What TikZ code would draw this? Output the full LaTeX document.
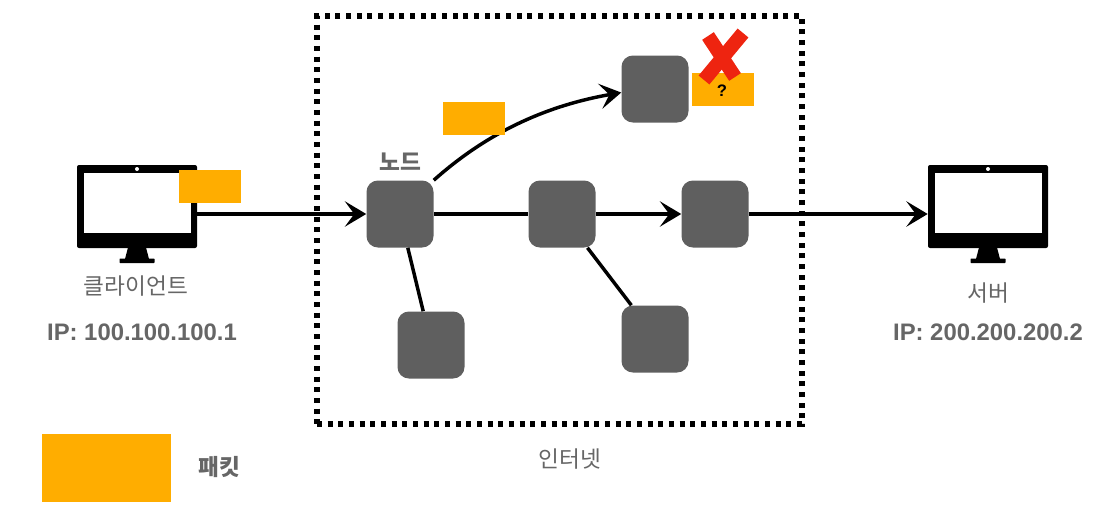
\documentclass[tikz,border=0pt]{standalone}
\usepackage{fontspec}
\usepackage{xcolor}
\usetikzlibrary{arrows.meta}
\setmainfont{Liberation Sans}
\newfontfamily\krfont{Noto Sans CJK KR}
\definecolor{gray1}{RGB}{95,95,95}
\definecolor{gray2}{RGB}{102,102,102}
\definecolor{orange1}{RGB}{255,173,0}
\definecolor{red1}{RGB}{238,36,16}
\tikzset{
  router/.style={fill=gray1, rounded corners=8.5pt, minimum size=50.25pt, inner sep=0pt},
  packet/.style={fill=orange1, minimum width=46.5pt, minimum height=24.75pt, inner sep=0pt},
  monitor/.style={fill=black, rounded corners=1.5pt, minimum width=90pt, minimum height=62.25pt, inner sep=0pt},
  link/.style={line width=2.6pt, black},
  arrowlink/.style={link, -{Stealth[length=16pt, width=19pt, inset=7pt]}},
  label/.style={text=gray2, inner sep=0pt, font=\krfont\fontsize{17}{19}\selectfont},
  ipaddr/.style={text=gray2, inner sep=0pt, font=\bfseries\fontsize{17.9}{20}\selectfont},
  boldlabel/.style={text=gray2, inner sep=0pt, font=\krfont\bfseries\fontsize{17}{19}\selectfont}
}

\begin{document}
\begin{tikzpicture}[x=0.75pt, y=-0.75pt]
\useasboundingbox (0,0) rectangle (1116,514);

% ----- internet frame -----
\node[draw=black, line width=3.8pt, dash pattern=on 3.8pt off 4.2pt, minimum width=363.75pt, minimum height=306pt, inner sep=0pt] (internet) at (559.5,220) {};
\node[label] (internetlabel) at (570,459) {인터넷};

% ----- client and server -----
\foreach \n/\cx in {client/137,server/988} {
  \node[monitor] (\n) at (\cx,206.5) {};
  \fill[white] ([shift={(-53.5,-33.5)}]\n.center) rectangle ([shift={(53.5,26.5)}]\n.center);
  \fill[white] ([shift={(0,-37.5)}]\n.center) circle (1.5pt);
  \fill[black] ([shift={(-9,41)}]\n.center) -- ([shift={(9,41)}]\n.center) -- ([shift={(12,52.5)}]\n.center) -- ([shift={(-12,52.5)}]\n.center) -- cycle;
  \fill[black, rounded corners=0.5pt] ([shift={(-17.5,52)}]\n.center) rectangle ([shift={(17.5,56.5)}]\n.center);
}
\node[label] (clientlabel) at (136,286) {클라이언트};
\node[ipaddr] (clientip) at (142,332) {IP: 100.100.100.1};
\node[label] (serverlabel) at (988,293) {서버};
\node[ipaddr] (serverip) at (988,332) {IP: 200.200.200.2};

% ----- routers -----
\node[router] (r1) at (400,214) {};
\node[router] (r2) at (562,214) {};
\node[router] (r3) at (715,214) {};
\node[router] (rtop) at (655,89) {};
\node[router] (rleft) at (431,345) {};
\node[router] (rright) at (655,339) {};
\node[boldlabel] (routerlabel) at (400,162) {노드};

% ----- connectors -----
\draw[arrowlink] (client.east |- r1.west) -- (r1.west);
\draw[link] (r1.east) -- (r2.west);
\draw[arrowlink] (r2.east) -- (r3.west);
\draw[arrowlink] (r3.east) -- (server.west |- r3.east);
\draw[arrowlink] (r1.north east) .. controls (490,130) and (550,105) .. (rtop.186);
\draw[link] (r1.-77) -- (rleft.103);
\draw[link] (r2.-53) -- (rright.125);

% ----- packets -----
\node[packet] (pclient) at (210,186.5) {};
\node[packet] (pmoving) at (474,118.5) {};
\node[packet] (plost) at (723,89.5) {};
\node[packet, minimum width=96.75pt, minimum height=51pt] (plegend) at (106.5,468) {};
\node[boldlabel] (plegendlabel) at (219,467) {패킷};

% ----- lost packet -----
\draw[red1, line width=10.5pt] (708,36) -- (735,77);
\draw[red1, line width=10.5pt] (743,33) -- (704,80);
\node[inner sep=0pt, font=\bfseries\fontsize{12.5}{14}\selectfont] (plostmark) at (722,91) {?};

\end{tikzpicture}
\end{document}
